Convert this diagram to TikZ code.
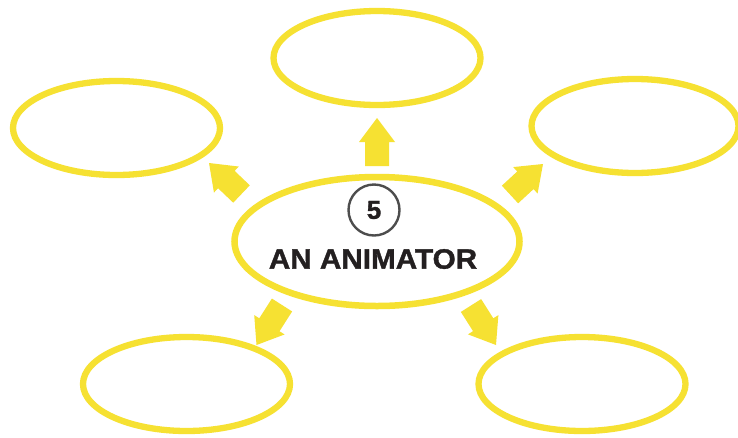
\documentclass[tikz,border=0pt]{standalone}
\usepackage{fontspec}
\setmainfont{Liberation Sans}
\newfontfamily\heavyfont{Liberation Sans Bold}[FakeBold=1.3]
\usetikzlibrary{shapes.geometric,calc}
\definecolor{ylw}{HTML}{F6E132}
\definecolor{ink}{HTML}{231F20}
\definecolor{ringgray}{HTML}{4D4D4D}
\newcommand\blockarr[2]{%
  \coordinate (#1-hb) at ($(#2)!24pt!(#1)$);
  \fill[ylw] ($(#1)!12pt!90:(#2)$) -- ($(#1-hb)!12pt!90:(#2)$) -- ($(#1-hb)!18pt!90:(#2)$)
    -- (#2) -- ($(#1-hb)!18pt!-90:(#2)$) -- ($(#1-hb)!12pt!-90:(#2)$) -- ($(#1)!12pt!-90:(#2)$) -- cycle;}
\begin{document}
\begin{tikzpicture}[x=1pt,y=-1pt,
  bubble/.style={ellipse, draw=ylw, line width=6.3pt, inner sep=0pt, minimum width=207pt, minimum height=94pt},
  hub/.style={ellipse, draw=ylw, line width=6.5pt, inner sep=0pt, minimum width=285pt, minimum height=129pt},
  ring/.style={circle, draw=ringgray, line width=2.4pt, inner sep=0pt, minimum size=51pt, text=ink, font=\heavyfont\fontsize{26}{26}\selectfont},
  title/.style={inner sep=0pt, text=ink, font=\heavyfont\fontsize{28}{28}\selectfont}]
\useasboundingbox (0,0) rectangle (738,437);
\fill[white] (0,0) rectangle (738,437);
% nodes
\node[bubble] (top) at (377,58) {};
\node[bubble] (tl) at (116.5,128) {};
\node[bubble] (tr) at (635,126) {};
\node[bubble] (bl) at (186.5,384) {};
\node[bubble] (br) at (582,384) {};
\node[hub] (hub) at (377,241.5) {};
\node[ring] (num) at (374,210) {5};
\node[title] (name) at (373,259) {\scalebox{1.06}[1]{AN ANIMATOR}};
% connector ends
\coordinate (aT1) at (377,166);   \coordinate (aT2) at (377,118);
\coordinate (aL1) at (241.5,194); \coordinate (aL2) at (209,163);
\coordinate (aR1) at (510,194.5); \coordinate (aR2) at (543,164);
\coordinate (aBL1) at (282,305);  \coordinate (aBL2) at (256.5,345);
\coordinate (aBR1) at (471,305.5); \coordinate (aBR2) at (496,345);
\blockarr{aT1}{aT2}
\blockarr{aL1}{aL2}
\blockarr{aR1}{aR2}
\blockarr{aBL1}{aBL2}
\blockarr{aBR1}{aBR2}
\end{tikzpicture}
\end{document}
